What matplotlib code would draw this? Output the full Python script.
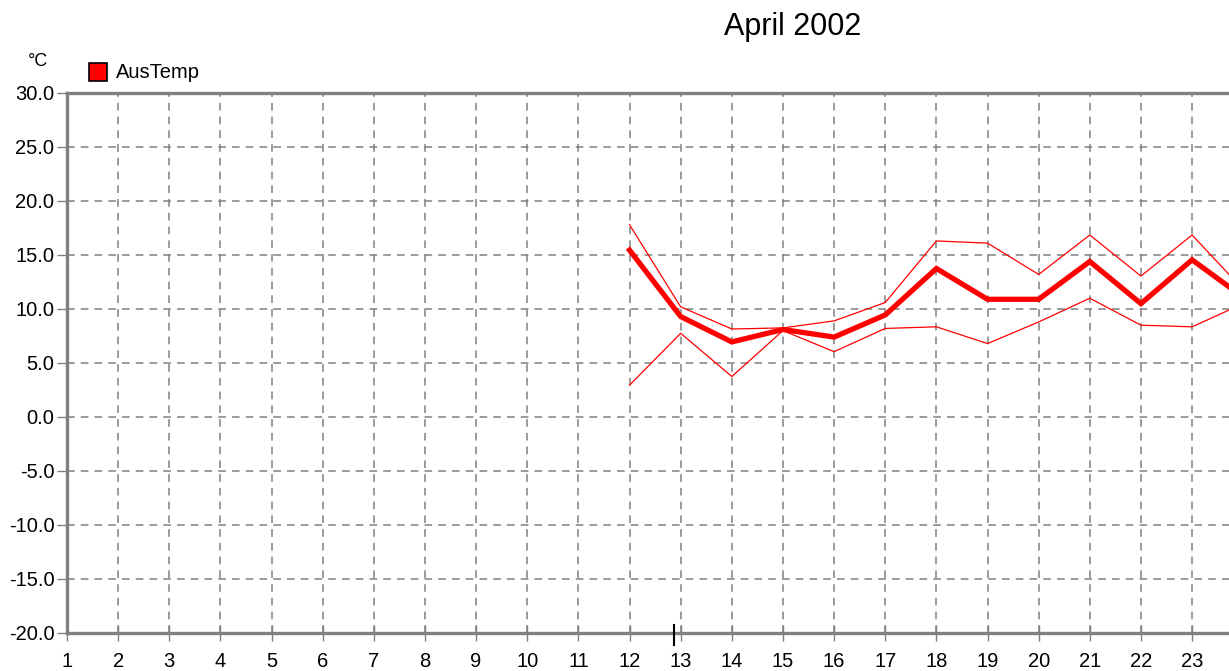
import matplotlib
matplotlib.use("Agg")
import matplotlib.pyplot as plt
from matplotlib.patches import Rectangle

plt.rcParams['font.family'] = ['Liberation Sans', 'DejaVu Sans']

# ---- data ----
days = [12, 13, 14, 15, 16, 17, 18, 19, 20, 21, 22, 23, 24]
temp_max = [17.8, 10.2, 8.15, 8.25, 8.9, 10.6, 16.3, 16.1, 13.2, 16.85, 13.05, 16.85, 11.8]
temp_mean = [15.45, 9.3, 6.95, 8.1, 7.4, 9.45, 13.75, 10.9, 10.9, 14.4, 10.5, 14.55, 11.1]
temp_min = [2.95, 7.75, 3.75, 8.0, 6.05, 8.2, 8.35, 6.8, 8.8, 11.0, 8.5, 8.35, 10.5]
x_ticks = list(range(1, 24))
y_ticks = [-20, -15, -10, -5, 0, 5, 10, 15, 20, 25, 30]
title = "April 2002"
unit_label = "°C"
series_name = "AusTemp"
marker_day = 12.87

W, H = 1229, 671
fig = plt.figure(figsize=(W / 100, H / 100), dpi=100)
fig.patch.set_facecolor('white')

left_px, right_px, top_px, bottom_px = 67, 1229, 93, 633
ax = fig.add_axes([left_px / W, (H - bottom_px) / H,
                   (right_px - left_px) / W, (bottom_px - top_px) / H])
ax.set_xlim(1, 1 + (right_px - left_px) / 51.14)
ax.set_ylim(-20, 30)

gray = '#808080'
for s in ['left', 'bottom', 'top']:
    ax.spines[s].set_color(gray)
    ax.spines[s].set_linewidth(2.4)
ax.spines['right'].set_visible(False)

ax.set_xticks(x_ticks)
ax.set_xticklabels([str(d) for d in x_ticks])
ax.set_yticks(y_ticks)
ax.set_yticklabels([f"{v:.1f}" for v in y_ticks])
ax.tick_params(axis='x', direction='inout', length=12, width=1, color=gray,
               labelsize=14.5, pad=8, labelcolor='black')
ax.tick_params(axis='y', direction='out', length=7, width=1, color=gray,
               labelsize=14.5, pad=2, labelcolor='black')

# dashed grid
for d in x_ticks[1:]:
    ax.axvline(d, color=gray, lw=1.1, ls=(0, (5, 4)), zorder=1)
for v in y_ticks[1:-1]:
    ax.axhline(v, color=gray, lw=1.1, ls=(0, (5, 4)), zorder=1)

# series
ax.plot(days, temp_max, color='#ff0000', lw=0.9, zorder=3, clip_on=True)
ax.plot(days, temp_min, color='#ff0000', lw=0.9, zorder=3, clip_on=True)
ax.plot(days, temp_mean, color='#ff0000', lw=3.8, zorder=4, clip_on=True,
        solid_joinstyle='miter')

# marker on x axis
ax.plot([marker_day, marker_day], [-21.1, -19.25], color='black', lw=1.5,
        clip_on=False, zorder=6)

# title and labels
fig.text(793 / W, 1 - 27 / H, title, ha='center', va='center', fontsize=22)
fig.text(38 / W, 1 - 61 / H, unit_label, ha='center', va='center', fontsize=13)
fig.patches.append(Rectangle((89 / W, 1 - 81 / H), 18 / W, 18 / H,
                             transform=fig.transFigure, facecolor='#ff0000',
                             edgecolor='black', lw=1.2))
fig.text(116 / W, 1 - 72 / H, series_name, ha='left', va='center', fontsize=14.5)

fig.savefig('out.png', dpi=100)
